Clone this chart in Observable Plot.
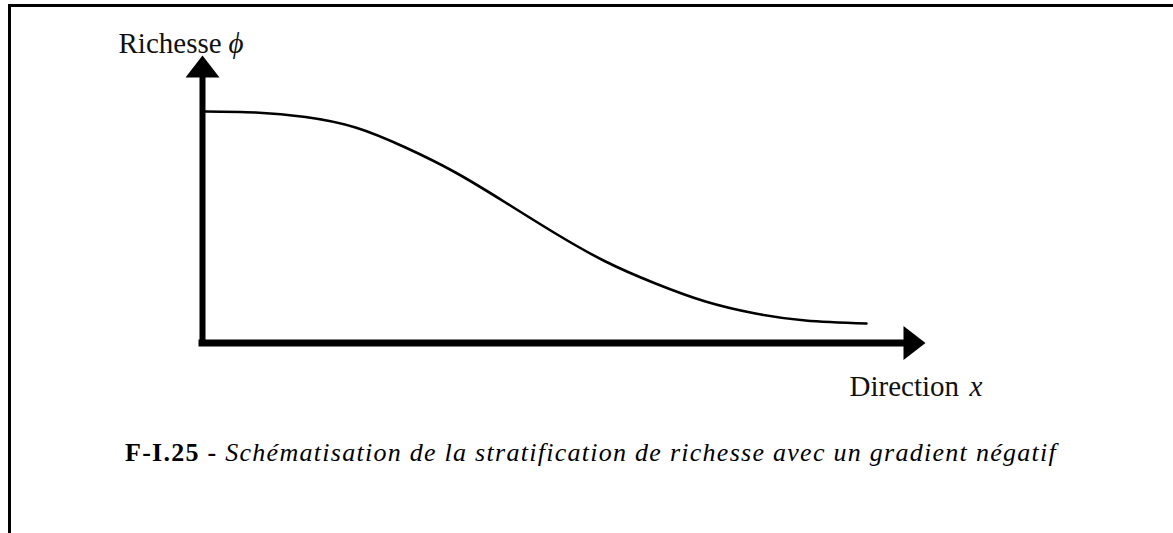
<!DOCTYPE html>
<html>
<head>
<meta charset="utf-8">
<script src="https://cdn.jsdelivr.net/npm/d3@7"></script>
<script src="https://cdn.jsdelivr.net/npm/@observablehq/plot@0.6"></script>
<style>
  html, body { margin: 0; padding: 0; background: #fff; overflow: hidden; }
  #wrap { position: relative; width: 1173px; height: 533px; }
  #frameTop { position: absolute; left: 8px; top: 4px; width: 1165px; height: 3px; background: #000; }
  #frameLeft { position: absolute; left: 8px; top: 4px; width: 3px; height: 529px; background: #000; }
  #chart { position: absolute; left: 0; top: 0; }
  #caption { position: absolute; left: 125px; top: 440px; font-family: "Liberation Serif", serif; font-size: 26px; line-height: 26px; white-space: nowrap; color: #000; }
  #caption b { font-weight: bold; }
  #caption i { font-style: italic; }
</style>
</head>
<body>
<div id="wrap">
  <div id="chart"></div>
  <div id="frameTop"></div>
  <div id="frameLeft"></div>
  <div id="caption"></div>
</div>
<script>
// Schematic richness profile (arbitrary units, 0..100 on each axis)
const curveX = [0.43, 7.56, 14.69, 21.83, 28.96, 36.09, 43.22, 50.36, 57.49, 64.62, 71.75, 78.89, 86.02, 94.72];
const curveY = [87.19, 86.82, 85.12, 81.17, 73.63, 64.22, 52.92, 41.24, 30.70, 22.41, 15.63, 11.11, 8.47, 7.34];

const yLabelText = "Richesse";
const yLabelSymbol = "ϕ";
const xLabelText = "Direction";
const xLabelSymbol = "x";
const captionBold = "F-I.25 - ";
const captionItalic = "Schématisation de la stratification de richesse avec un gradient négatif";

const curveData = curveX.map((x, i) => ({x, y: curveY[i]}));

const triUp = { draw(ctx) { ctx.moveTo(0, -22); ctx.lineTo(17, 0); ctx.lineTo(-17, 0); ctx.closePath(); } };
const triRight = { draw(ctx) { ctx.moveTo(22, 0); ctx.lineTo(0, 17); ctx.lineTo(0, -17); ctx.closePath(); } };

const font = "Liberation Serif, Times New Roman, serif";

const chart = Plot.plot({
  width: 1173,
  height: 420,
  x: { domain: [0, 100], range: [202, 903], axis: null },
  y: { domain: [0, 100], range: [342.5, 77], axis: null },
  style: { background: "transparent" },
  marks: [
    Plot.line(curveData, { x: "x", y: "y", stroke: "black", strokeWidth: 2.6, curve: "natural" }),
    Plot.ruleX([0], { y1: 0, y2: 100, stroke: "black", strokeWidth: 6, strokeLinecap: "square" }),
    Plot.ruleY([0], { x1: 0, x2: 100, stroke: "black", strokeWidth: 7, strokeLinecap: "square" }),
    Plot.dot([{x: 0, y: 100}], { x: "x", y: "y", symbol: triUp, r: 10, fill: "black", stroke: "none" }),
    Plot.dot([{x: 100, y: 0}], { x: "x", y: "y", symbol: triRight, r: 10, fill: "black", stroke: "none" }),
    Plot.text([yLabelText], { x: -11.98, y: 109.4, text: d => d, textAnchor: "start", lineAnchor: "bottom", fontSize: 29, fontFamily: font, fill: "#111" }),
    Plot.text([yLabelSymbol], { x: 3.7, y: 109.4, text: d => d, textAnchor: "start", lineAnchor: "bottom", fontSize: 29, fontFamily: font, fontStyle: "italic", fill: "#111" }),
    Plot.text([xLabelText], { x: 92.3, y: -19.8, text: d => d, textAnchor: "start", lineAnchor: "bottom", fontSize: 29, fontFamily: font, fill: "#111" }),
    Plot.text([xLabelSymbol], { x: 109.4, y: -19.8, text: d => d, textAnchor: "start", lineAnchor: "bottom", fontSize: 29, fontFamily: font, fontStyle: "italic", fill: "#111" })
  ]
});
document.getElementById("chart").appendChild(chart);

const cap = document.getElementById("caption");
const b = document.createElement("b"); b.textContent = captionBold;
const it = document.createElement("i"); it.textContent = captionItalic;
cap.appendChild(b); cap.appendChild(it);
// stretch caption to the reference width
const targetW = 932;
const w = cap.getBoundingClientRect().width;
const n = (captionBold + captionItalic).length;
cap.style.letterSpacing = ((targetW - w) / n).toFixed(3) + "px";
</script>
</body>
</html>
